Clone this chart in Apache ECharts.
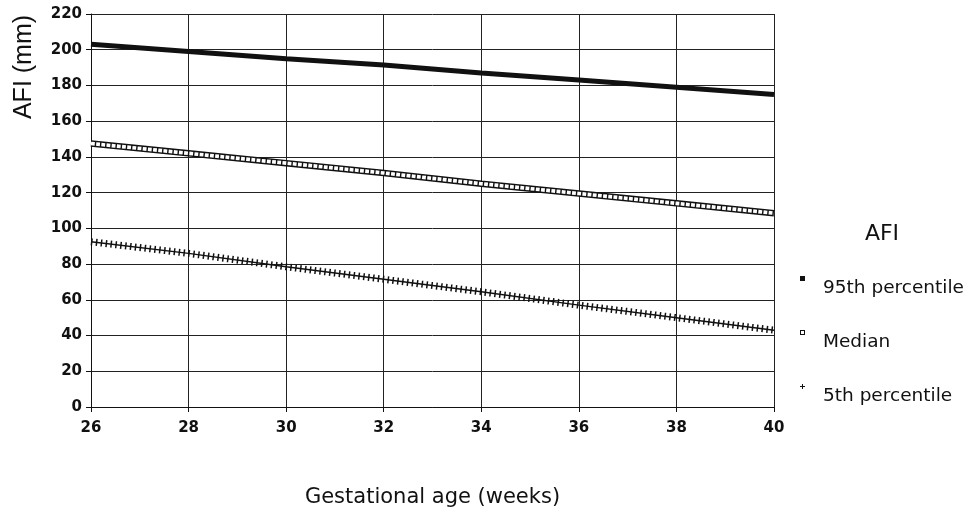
<!DOCTYPE html>
<html>
<head>
<meta charset="utf-8">
<script src="https://cdn.jsdelivr.net/npm/echarts@6/dist/echarts.min.js"></script>
<style>html,body{margin:0;padding:0;background:#fff}#c{width:969px;height:508px}</style>
</head>
<body>
<div id="c"></div>
<script>
var weeks = [26, 28, 30, 32, 34, 36, 38, 40];
var p95 = [203, 199, 195, 191.5, 187, 183, 179, 175];
var median = [147.5, 142, 136.5, 131, 125, 119.5, 114, 108.5];
var p5 = [92.5, 86, 78.5, 71.5, 64.5, 57, 50, 43];
var yTicks = [0, 20, 40, 60, 80, 100, 120, 140, 160, 180, 200, 220];
var xTicks = [26, 28, 30, 32, 34, 36, 38, 40];
var seriesNames = ['95th percentile', 'Median', '5th percentile'];
var legendTitle = 'AFI';
var yTitle = 'AFI (mm)';
var xTitle = 'Gestational age (weeks)';

function pairs(vals) { return weeks.map(function (w, i) { return [w, vals[i]]; }); }

var chart = echarts.init(document.getElementById('c'), null, {renderer: 'canvas'});
var ink = '#111';
var option = {
  backgroundColor: '#fff',
  animation: false,
  grid: {left: 91, right: 195, top: 14, bottom: 101, show: false, containLabel: false, outerBoundsMode: 'none'},
  xAxis: {
    type: 'value', min: xTicks[0], max: xTicks[xTicks.length - 1], interval: 2,
    name: xTitle, nameLocation: 'middle', nameGap: 80,
    nameTextStyle: {fontFamily: 'DejaVu Sans', fontSize: 21, color: ink},
    axisLine: {show: true, lineStyle: {color: ink, width: 1}},
    axisTick: {show: true, length: 5, lineStyle: {color: ink}},
    axisLabel: {fontFamily: 'DejaVu Sans', fontWeight: 'bold', fontSize: 15, color: ink, margin: 14},
    splitLine: {show: true, lineStyle: {color: '#222', width: 1}}
  },
  yAxis: {
    type: 'value', min: yTicks[0], max: yTicks[yTicks.length - 1], interval: 20,
    axisLine: {show: true, lineStyle: {color: ink, width: 1}},
    axisTick: {show: true, length: 5, lineStyle: {color: ink}},
    axisLabel: {fontFamily: 'DejaVu Sans', fontWeight: 'bold', fontSize: 15, color: ink, margin: 9},
    splitLine: {show: true, lineStyle: {color: '#222', width: 1}}
  },
  legend: {
    orient: 'vertical', left: 795, top: 271, itemGap: 29,
    itemWidth: 18, itemHeight: 25, selectedMode: false,
    textStyle: {fontFamily: 'DejaVu Sans', fontSize: 18.5, color: ink},
    data: [
      {name: seriesNames[0], icon: 'path://M0,0h5v5h-5z M18,25h0.001', itemStyle: {color: ink, borderWidth: 0}},
      {name: seriesNames[1], icon: 'path://M0,0h5v5h-5z M1,1v3h3v-3z M18,25h0.001', itemStyle: {color: ink, borderWidth: 0}},
      {name: seriesNames[2], icon: 'path://M2,0h1v2h2v1h-2v2h-1v-2h-2v-1h2z M18,25h0.001', itemStyle: {color: ink, borderWidth: 0}}
    ]
  },
  graphic: [
    {type: 'text', x: 24, y: 67, rotation: Math.PI / 2,
     style: {text: yTitle, fontFamily: 'Liberation Sans', fontSize: 25, fill: ink, align: 'center', verticalAlign: 'middle'}},
    {type: 'text', x: 882, y: 234,
     style: {text: legendTitle, fontFamily: 'DejaVu Sans', fontSize: 22, fill: ink, align: 'center', verticalAlign: 'middle'}}
  ],
  series: [
    {name: seriesNames[0], type: 'line', data: pairs(p95), showSymbol: false, symbol: 'none', z: 3,
     lineStyle: {color: ink, width: 5}, itemStyle: {color: ink}},
    {name: seriesNames[1], type: 'line', data: pairs(median), showSymbol: false, symbol: 'none', z: 3,
     lineStyle: {color: ink, width: 6.5}, itemStyle: {color: ink}},
    {name: seriesNames[1] + ' fill', type: 'line', data: pairs(median), showSymbol: false, symbol: 'none', z: 4,
     lineStyle: {color: '#fff', width: 3.6, type: [3.8, 1.4]}, itemStyle: {color: '#fff'}, silent: true},
    {name: seriesNames[2], type: 'line', data: pairs(p5), showSymbol: false, symbol: 'none', z: 3,
     lineStyle: {color: ink, width: 1.4}, itemStyle: {color: ink}},
    {name: seriesNames[2] + ' ticks', type: 'line', data: pairs(p5), showSymbol: false, symbol: 'none', z: 4,
     lineStyle: {color: ink, width: 7, type: [1.5, 3.4]}, itemStyle: {color: ink}, silent: true}
  ]
};
chart.setOption(option);
</script>
</body>
</html>
